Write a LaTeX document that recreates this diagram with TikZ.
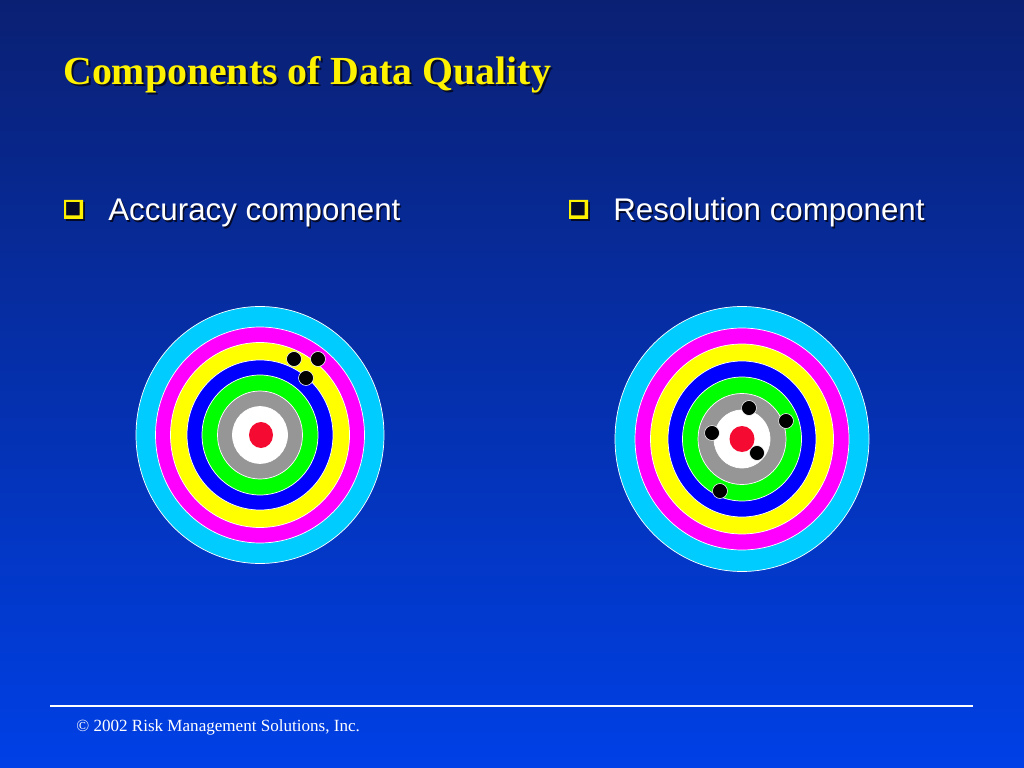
\documentclass[tikz,border=0pt]{standalone}
\usepackage{fontspec}
\setmainfont{Liberation Serif}
\newfontfamily\arialfont{Liberation Sans}
\usetikzlibrary{positioning}
\definecolor{slidetop}{RGB}{10,32,115}
\definecolor{slidemid}{RGB}{5,50,180}
\definecolor{slidebot}{RGB}{0,64,230}
\definecolor{ringcyan}{RGB}{0,204,255}
\definecolor{ringmag}{RGB}{255,0,255}
\definecolor{ringyel}{RGB}{255,255,0}
\definecolor{ringblue}{RGB}{0,0,255}
\definecolor{ringgreen}{RGB}{0,255,0}
\definecolor{ringgray}{RGB}{150,150,150}
\definecolor{bullseye}{RGB}{245,10,50}
\definecolor{shadowc}{RGB}{5,10,40}
\tikzset{
  titletext/.style = {anchor=base west, inner sep=0pt,
    font=\fontsize{28}{32}\selectfont\bfseries},
  itemtext/.style = {anchor=base west, inner sep=0pt,
    font=\arialfont\fontsize{22}{26}\selectfont},% bullet item
  ring/.style = {draw=white, line width=0.5pt},
  hit/.style = {circle, fill=black, draw=white, line width=0.4pt,
    inner sep=0pt, minimum size=10.5pt},% shot on the target
  boxmark/.style = {fill=yellow, even odd rule}
}

\begin{document}
\begin{tikzpicture}[x=0.703125pt, y=-0.703125pt]
  \useasboundingbox (0,0) rectangle (1024,768);
  \shade[top color=slidetop, middle color=slidemid, bottom color=slidebot]
    (0,0) rectangle (1024,768);

  % title
  \node[titletext, shadowc] (titleshadow) at (65,87) {Components of Data Quality};
  \node[titletext, yellow] (title) at (63,85) {Components of Data Quality};

  % bullets
  \foreach \bx/\nm/\txt in {64/acc/Accuracy component, 569/res/Resolution component}{
    \fill[shadowc] (\bx+2,202) rectangle (\bx+21,221);
    \fill[boxmark] (\bx,200) rectangle (\bx+19,219) (\bx+2,202) rectangle (\bx+15.5,215.5);
    \node[itemtext, shadowc] (\nm shadow) at (\bx+45.5,222.5) {\txt};
    \node[itemtext, white] (\nm) at (\bx+44,221) {\txt};
  }

  % accuracy target
  \foreach \rx/\ry/\col in {124/128.5/ringcyan, 104.5/108/ringmag, 89.5/92.5/ringyel,
      73/75/ringblue, 58/60/ringgreen, 42.5/44/ringgray, 27.5/28.5/white}
    \filldraw[ring, fill=\col] (260,435) ellipse [x radius=\rx, y radius=\ry];
  \fill[bullseye] (261,435) ellipse [x radius=12, y radius=13];
  \node[hit] (a1) at (294,359) {};
  \node[hit] (a2) at (318,359) {};
  \node[hit] (a3) at (306,378) {};

  % resolution target
  \foreach \rx/\ry/\col in {127/132.5/ringcyan, 107/111/ringmag, 91.5/95/ringyel,
      74/78/ringblue, 59.5/62/ringgreen, 44/45.5/ringgray, 28/29/white}
    \filldraw[ring, fill=\col] (742,439) ellipse [x radius=\rx, y radius=\ry];
  \fill[bullseye] (742,439) ellipse [x radius=12.5, y radius=13];
  \node[hit] (r1) at (749,408) {};
  \node[hit] (r2) at (786,421) {};
  \node[hit] (r3) at (712,433) {};
  \node[hit] (r4) at (757,453) {};
  \node[hit] (r5) at (720,491) {};

  % footer
  \coordinate (ruleL) at (50,706);
  \coordinate (ruleR) at (973,706);
  \draw[white, line width=0.8pt] (ruleL) -- (ruleR);
  \node[anchor=base west, inner sep=0pt, white, font=\fontsize{12}{14}\selectfont]
    (footer) at (76,731) {© 2002 Risk Management Solutions, Inc.};
\end{tikzpicture}
\end{document}
